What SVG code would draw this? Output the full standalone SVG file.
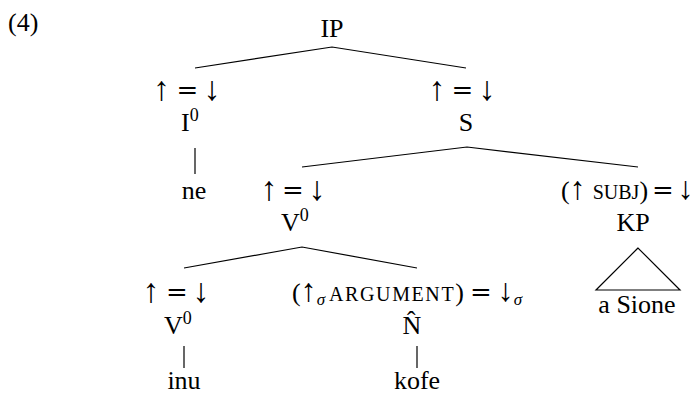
<svg xmlns="http://www.w3.org/2000/svg" width="697" height="403" viewBox="0 0 697 403">
<style>
.t{font-family:"Liberation Serif","Times New Roman",serif;font-size:26px;fill:#000}
.c{text-anchor:middle}
.ar{font-family:"Liberation Serif","DejaVu Serif",serif;font-size:34px;text-anchor:middle;fill:#000}
.ai{font-family:"Liberation Serif","DejaVu Serif",serif;font-size:32px}
.eq{font-family:"DejaVu Serif",serif;font-size:26px;text-anchor:middle;fill:#000}
.ei{font-family:"DejaVu Serif",serif;font-size:26px}
.sup{font-size:18px}
.sc{font-size:20px}
.sub{font-size:17px;font-style:italic}
.e{fill:none;stroke:#000;stroke-width:1.2}
</style>
<rect width="697" height="403" fill="#fff"/>
<g opacity="0.995">
<text class="t" x="8" y="31">(4)</text>
<g id="connectors">
<path class="e" d="M195,68 L332,47 L466,68"/>
<path class="e" d="M195,148 L195,174"/>
<path class="e" d="M302,167 L467,147 L638,167"/>
<path class="e" d="M184,268 L302,247 L417,268"/>
<path class="e" d="M184,346 L184,368"/>
<path class="e" d="M417,346 L417,368"/>
<path class="e" d="M638,248 L596,290 L680,290 Z"/>
</g>
<g id="node-IP"><text class="t c" x="332" y="37">IP</text></g>
<g id="node-I0">
<text class="ar" x="161.5" y="100">↑</text><text class="eq" x="187.5" y="99">=</text><text class="ar" x="212" y="100">↓</text>
<text class="t" x="181" y="131">I<tspan class="sup" dy="-10">0</tspan></text>
</g>
<g id="node-ne"><text class="t c" x="194" y="199">ne</text></g>
<g id="node-S">
<text class="ar" x="437" y="100">↑</text><text class="eq" x="462.5" y="99">=</text><text class="ar" x="487" y="100">↓</text>
<text class="t c" x="466" y="131">S</text>
</g>
<g id="node-V0-upper">
<text class="ar" x="269" y="200">↑</text><text class="eq" x="293" y="199">=</text><text class="ar" x="317" y="200">↓</text>
<text class="t" x="281" y="231">V<tspan class="sup" dy="-10">0</tspan></text>
</g>
<g id="node-KP">
<text class="t" x="561" y="199">(<tspan class="ai">↑</tspan><tspan class="sc" dx="7">SUBJ</tspan>)<tspan class="ei" dx="4">=</tspan><tspan class="ai" dx="4">↓</tspan></text>
<text class="t c" x="633" y="231">KP</text>
</g>
<g id="node-a-Sione"><text class="t c" x="637" y="313">a Sione</text></g>
<g id="node-V0-lower">
<text class="ar" x="151" y="302">↑</text><text class="eq" x="177" y="301">=</text><text class="ar" x="201" y="302">↓</text>
<text class="t" x="164" y="334">V<tspan class="sup" dy="-10">0</tspan></text>
</g>
<g id="node-N">
<text class="t" x="292" y="301">(<tspan class="ai">↑</tspan><tspan class="sub" dy="4">σ</tspan><tspan class="sc" dy="-4" dx="4" letter-spacing="1.6">ARGUMENT</tspan>)<tspan class="ei" dx="6">=</tspan><tspan class="ai" dx="6">↓</tspan><tspan class="sub" dy="4">σ</tspan></text>
<text class="t c" x="412" y="334">N̂</text>
</g>
<g id="node-inu"><text class="t c" x="184" y="389">inu</text></g>
<g id="node-kofe"><text class="t c" x="417" y="389">kofe</text></g>
</g>
</svg>
